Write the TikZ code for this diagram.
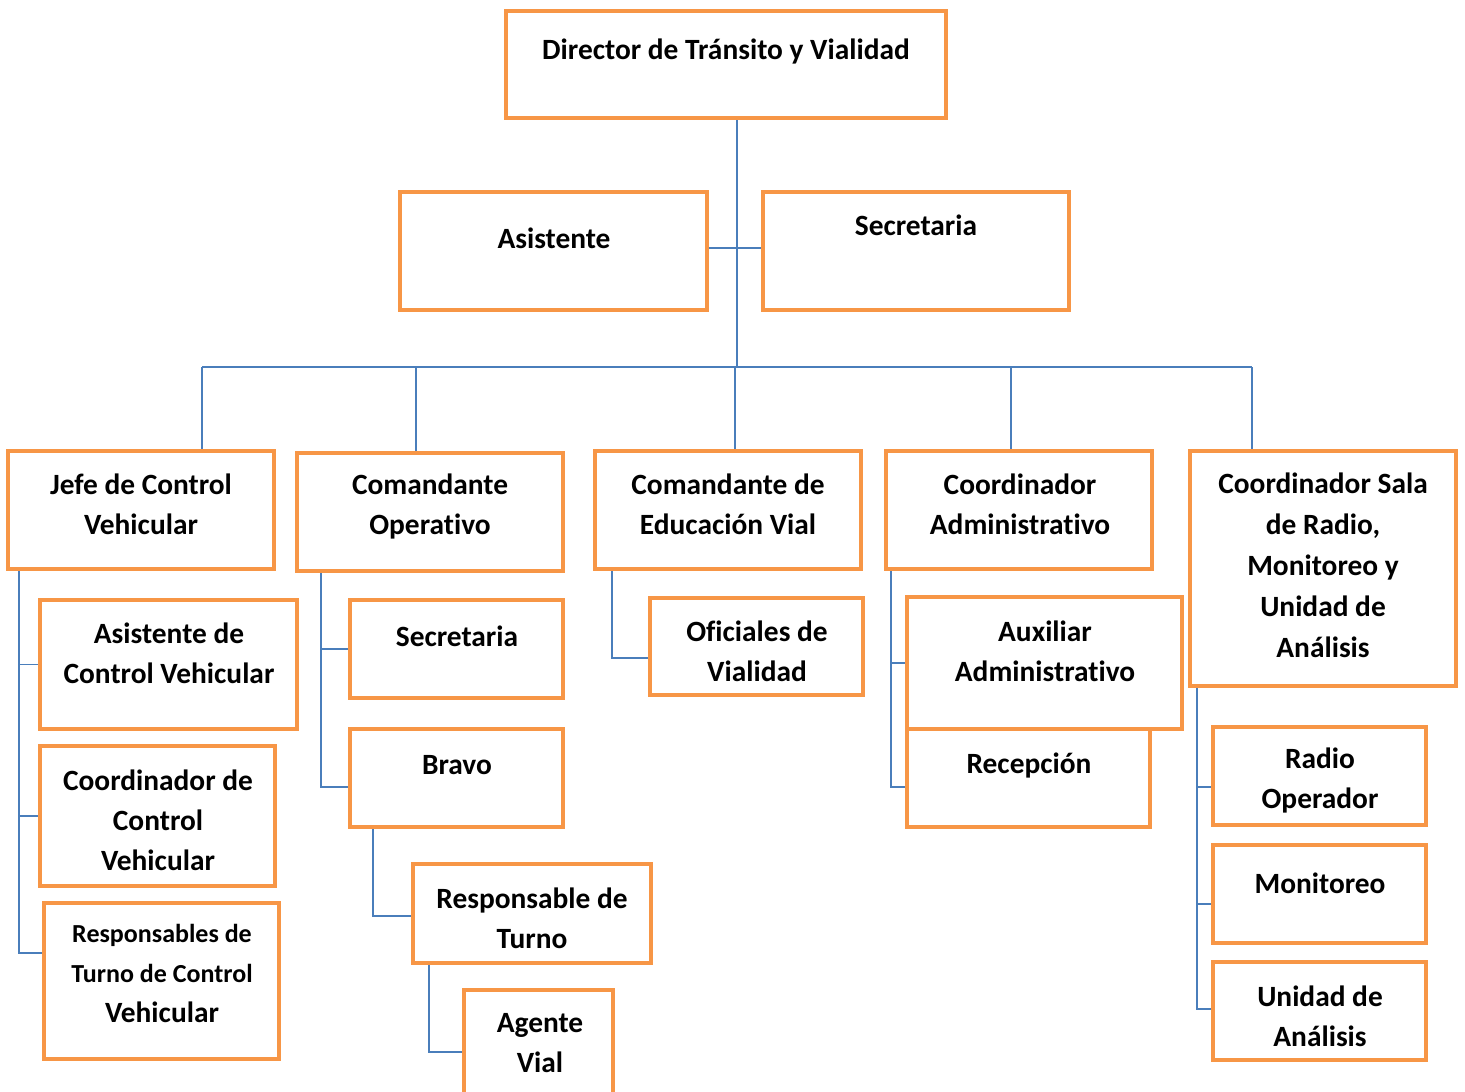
\documentclass[tikz,border=0pt]{standalone}
\usepackage{fontspec}
\setmainfont[Ligatures={NoCommon}]{Carlito}
\usetikzlibrary{fit}
\definecolor{boxor}{HTML}{F79646}
\definecolor{linkbl}{HTML}{4A7EBB}
\pgfdeclarelayer{bg}
\pgfsetlayers{bg,main}
\begin{document}
\begin{tikzpicture}[x=0.5pt,y=-0.5pt,
  box/.style={draw=boxor, line width=2pt, inner sep=0pt, fill=white},
  lbl/.style={font=\bfseries\fontsize{14.7}{20}\selectfont, align=center, inner sep=0pt},
  conn/.style={draw=linkbl, line width=0.75pt}]
\path[use as bounding box, clip] (0,0) rectangle (1465,1091);
% boxes
\node[box, fit={(506,11)(946,118)}] (dir) {};
\node[box, fit={(400,192)(707,310)}] (asis) {};
\node[box, fit={(763,192)(1069,310)}] (sec) {};
\node[box, fit={(8,451)(274,569)}] (jefe) {};
\node[box, fit={(297,453)(563,571)}] (cop) {};
\node[box, fit={(595,451)(861,569)}] (ced) {};
\node[box, fit={(886,451)(1152,569)}] (cadm) {};
\node[box, fit={(1190,451)(1456,686)}] (csala) {};
\node[box, fit={(40,600)(297,729)}] (acv) {};
\node[box, fit={(40,746)(275,886)}] (ccv) {};
\node[box, fit={(44,903)(279,1059)}] (rtcv) {};
\node[box, fit={(350,600)(563,698)}] (sec2) {};
\node[box, fit={(350,729)(563,827)}] (bravo) {};
\node[box, fit={(413,864)(651,963)}] (rt) {};
\node[box, fit={(464,990)(613,1110)}] (av) {};
\node[box, fit={(650,598)(863,695)}] (ov) {};
\node[box, fit={(907,729)(1150,827)}] (rec) {};
\node[box, fit={(907,597)(1182,729)}] (aux) {};
\node[box, fit={(1213,727)(1426,825)}] (ro) {};
\node[box, fit={(1213,845)(1426,943)}] (mon) {};
\node[box, fit={(1213,962)(1426,1060)}] (ua) {};
% connector coordinates
\coordinate (hub) at (737,367);
\coordinate (mid) at (737,248);
\coordinate (busL) at (202,367);
\coordinate (busR) at (1252,367);
\coordinate (d2) at (416,367);
\coordinate (d3) at (735,367);
\coordinate (d4) at (1011,367);
\coordinate (k1) at (19,953);
\coordinate (k2) at (321,787);
\coordinate (k3) at (373,916);
\coordinate (k4) at (429,1052);
\coordinate (k5) at (612,658);
\coordinate (k6) at (891,787);
\coordinate (k7) at (1197,1009);
\coordinate (b1) at (1197,787);
\coordinate (b2) at (1197,904);
\begin{pgfonlayer}{bg}
\draw[conn] (dir.south -| hub) -- (hub);
\draw[conn] (asis.east |- mid) -- (sec.west |- mid);
\draw[conn] (busL) -- (busR);
\draw[conn] (busL) -- (busL |- jefe.north);
\draw[conn] (d2) -- (d2 |- cop.north);
\draw[conn] (d3) -- (d3 |- ced.north);
\draw[conn] (d4) -- (d4 |- cadm.north);
\draw[conn] (busR) -- (busR |- csala.north);
\draw[conn] (jefe.south -| k1) -- (k1) -- (k1 -| rtcv.west);
\draw[conn] (acv.west -| k1) -- (acv.west);
\draw[conn] (ccv.west -| k1) -- (ccv.west);
\draw[conn] (cop.south -| k2) -- (k2) -- (k2 -| bravo.west);
\draw[conn] (sec2.west -| k2) -- (sec2.west);
\draw[conn] (bravo.south -| k3) -- (k3) -- (k3 -| rt.west);
\draw[conn] (rt.south -| k4) -- (k4) -- (k4 -| av.west);
\draw[conn] (ced.south -| k5) -- (k5) -- (k5 -| ov.west);
\draw[conn] (cadm.south -| k6) -- (k6) -- (k6 -| rec.west);
\draw[conn] (aux.west -| k6) -- (aux.west);
\draw[conn] (csala.south -| k7) -- (k7) -- (k7 -| ua.west);
\draw[conn] (b1) -- (b1 -| ro.west);
\draw[conn] (b2) -- (b2 -| mon.west);
\end{pgfonlayer}
% labels
\node[lbl] (dir-t) at (726,51) {Director de Tránsito y Vialidad};
\node[lbl] (asis-t) at (554,238) {Asistente};
\node[lbl] (sec-t) at (916,225) {Secretaria};
\node[lbl] (jefe-t) at (141,504) {Jefe de Control\\Vehicular};
\node[lbl] (cop-t) at (430,506.5) {Comandante\\Operativo};
\node[lbl] (ced-t) at (728,504) {Comandante de\\Educación Vial};
\node[lbl] (cadm-t) at (1020,504) {Coordinador\\Administrativo};
\node[lbl, font=\bfseries\fontsize{14.7}{20.5}\selectfont] (csala-t) at (1323,565) {Coordinador Sala\\de Radio,\\Monitoreo y\\Unidad de\\Análisis};
\node[lbl] (acv-t) at (169,653.5) {Asistente de\\Control Vehicular};
\node[lbl] (ccv-t) at (158,820) {Coordinador de\\Control\\Vehicular};
\node[lbl] (rtcv-t) at (162,973) {\fontsize{13}{18}\selectfont Responsables de\\\fontsize{13}{18}\selectfont Turno de Control\\\fontsize{14.7}{20}\selectfont Vehicular};
\node[lbl] (sec2-t) at (457,636) {Secretaria};
\node[lbl] (bravo-t) at (457,765) {Bravo};
\node[lbl] (rt-t) at (532,918.5) {Responsable de\\Turno};
\node[lbl] (av-t) at (540,1043.5) {Agente\\Vial};
\node[lbl] (ov-t) at (757,651.5) {Oficiales de\\Vialidad};
\node[lbl] (aux-t) at (1045,651) {Auxiliar\\Administrativo};
\node[lbl] (rec-t) at (1029,765) {Recepción};
\node[lbl] (ro-t) at (1320,780.5) {Radio\\Operador};
\node[lbl] (mon-t) at (1320,883) {Monitoreo};
\node[lbl] (ua-t) at (1320,1016) {Unidad de\\Análisis};
\end{tikzpicture}
\end{document}
